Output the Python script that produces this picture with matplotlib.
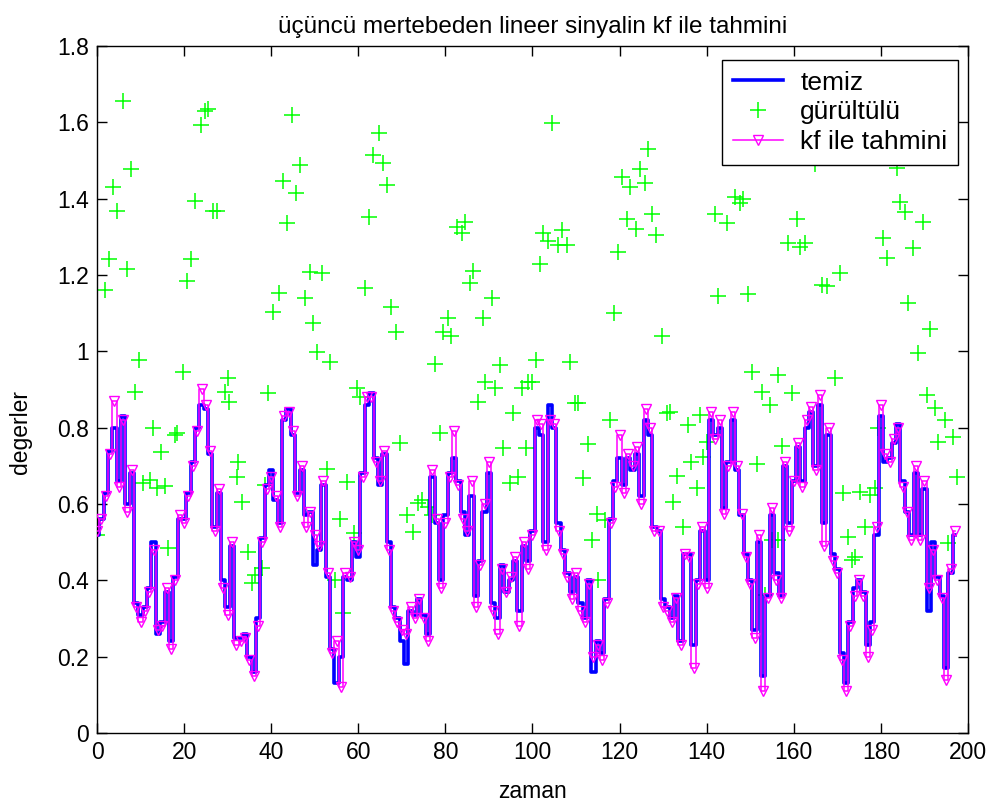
import numpy as np
import matplotlib
matplotlib.use("Agg")
import matplotlib.pyplot as plt

plt.rcParams['font.family'] = ['Liberation Sans', 'DejaVu Sans']

# kalman filtresi tahmini (her zaman adimi icin)
kf_tahmin = [
    0.53, 0.56, 0.62, 0.73, 0.87, 0.645, 0.82, 0.58, 0.69, 0.33,
    0.29, 0.32, 0.37, 0.48, 0.27, 0.28, 0.38, 0.22, 0.40, 0.57,
    0.55, 0.62, 0.70, 0.79, 0.90, 0.86, 0.74, 0.53, 0.64, 0.38,
    0.31, 0.50, 0.23, 0.24, 0.25, 0.19, 0.15, 0.28, 0.50, 0.64,
    0.67, 0.62, 0.54, 0.83, 0.84, 0.79, 0.62, 0.70, 0.54, 0.58,
    0.52, 0.49, 0.66, 0.42, 0.21, 0.24, 0.12, 0.42, 0.41, 0.50,
    0.48, 0.67, 0.88, 0.88, 0.71, 0.66, 0.74, 0.48, 0.32, 0.29,
    0.27, 0.26, 0.33, 0.30, 0.35, 0.30, 0.24, 0.69, 0.56, 0.38,
    0.55, 0.67, 0.79, 0.65, 0.56, 0.53, 0.66, 0.33, 0.44, 0.60,
    0.71, 0.32, 0.26, 0.43, 0.37, 0.41, 0.46, 0.28, 0.50, 0.43,
    0.52, 0.82, 0.81, 0.48, 0.82, 0.81, 0.53, 0.47, 0.41, 0.35,
    0.42, 0.32, 0.29, 0.39, 0.20, 0.23, 0.19, 0.34, 0.55, 0.645,
    0.78, 0.63, 0.73, 0.70, 0.75, 0.60, 0.85, 0.80, 0.53, 0.53,
    0.33, 0.32, 0.29, 0.355, 0.23, 0.47, 0.46, 0.17, 0.39, 0.54,
    0.38, 0.84, 0.77, 0.82, 0.575, 0.70, 0.84, 0.70, 0.575, 0.46,
    0.39, 0.25, 0.52, 0.11, 0.355, 0.59, 0.40, 0.355, 0.71, 0.53,
    0.66, 0.76, 0.645, 0.82, 0.855, 0.69, 0.885, 0.49, 0.80, 0.45,
    0.42, 0.19, 0.11, 0.28, 0.36, 0.40, 0.36, 0.20, 0.27, 0.54,
    0.86, 0.73, 0.71, 0.77, 0.80, 0.645, 0.58, 0.505, 0.70, 0.505,
    0.66, 0.38, 0.48, 0.40, 0.355, 0.14, 0.43, 0.53,
]

# gurultusuz sinyal
temiz = [
    0.52, 0.56, 0.63, 0.74, 0.80, 0.66, 0.83, 0.60, 0.68, 0.34,
    0.31, 0.33, 0.38, 0.50, 0.26, 0.29, 0.37, 0.24, 0.41, 0.56,
    0.56, 0.63, 0.71, 0.80, 0.86, 0.85, 0.73, 0.54, 0.63, 0.40,
    0.33, 0.49, 0.25, 0.25, 0.26, 0.20, 0.16, 0.30, 0.51, 0.65,
    0.69, 0.61, 0.55, 0.82, 0.85, 0.78, 0.63, 0.69, 0.57, 0.58,
    0.44, 0.48, 0.65, 0.41, 0.22, 0.13, 0.20, 0.41, 0.40, 0.50,
    0.46, 0.68, 0.86, 0.89, 0.72, 0.65, 0.73, 0.50, 0.33, 0.30,
    0.24, 0.18, 0.32, 0.31, 0.35, 0.31, 0.26, 0.67, 0.55, 0.40,
    0.57, 0.68, 0.72, 0.66, 0.58, 0.52, 0.62, 0.36, 0.45, 0.58,
    0.68, 0.34, 0.30, 0.44, 0.37, 0.40, 0.45, 0.32, 0.49, 0.45,
    0.53, 0.80, 0.78, 0.50, 0.86, 0.80, 0.55, 0.48, 0.42, 0.37,
    0.41, 0.34, 0.30, 0.40, 0.16, 0.24, 0.21, 0.35, 0.56, 0.66,
    0.72, 0.65, 0.72, 0.69, 0.73, 0.62, 0.82, 0.78, 0.54, 0.53,
    0.35, 0.33, 0.30, 0.36, 0.24, 0.47, 0.47, 0.23, 0.40, 0.53,
    0.40, 0.82, 0.78, 0.80, 0.59, 0.71, 0.82, 0.69, 0.57, 0.47,
    0.40, 0.27, 0.50, 0.15, 0.36, 0.57, 0.42, 0.36, 0.70, 0.55,
    0.66, 0.75, 0.66, 0.80, 0.84, 0.70, 0.86, 0.55, 0.78, 0.47,
    0.43, 0.21, 0.13, 0.29, 0.38, 0.40, 0.37, 0.23, 0.29, 0.52,
    0.83, 0.71, 0.72, 0.76, 0.81, 0.66, 0.58, 0.52, 0.68, 0.52,
    0.64, 0.32, 0.50, 0.41, 0.36, 0.17, 0.42, 0.52,
]

# gurultulu olcumler (zaman, deger)
gurultu_x = [
    0.0, 1.8, 2.8, 3.7, 4.7, 6.0, 7.0, 7.8, 8.7, 9.7,
    10.6, 12.2, 12.9, 13.7, 14.7, 15.6, 16.4, 18.0, 18.3, 19.8,
    20.7, 21.6, 22.5, 23.9, 24.9, 25.6, 26.7, 27.5, 29.3, 30.0,
    30.2, 32.1, 32.4, 33.2, 34.7, 35.5, 36.3, 37.8, 38.6, 39.3,
    40.5, 41.9, 42.8, 43.7, 44.7, 45.6, 46.5, 47.8, 48.8, 49.7,
    50.5, 51.6, 52.7, 53.5, 54.6, 55.8, 56.6, 57.3, 58.9, 59.6,
    60.4, 61.6, 62.5, 63.4, 64.8, 65.7, 66.5, 67.5, 68.7, 69.6,
    71.1, 72.6, 73.8, 74.6, 76.1, 76.9, 77.6, 78.8, 79.5, 80.5,
    81.4, 82.6, 83.7, 84.5, 85.6, 86.4, 87.4, 88.7, 89.1, 90.6,
    91.4, 92.5, 93.3, 94.8, 95.6, 96.7, 97.5, 98.5, 99.0, 100.0,
    100.9, 101.7, 102.5, 103.6, 104.4, 105.9, 106.7, 107.9, 108.6, 109.8,
    110.5, 111.7, 112.8, 113.6, 114.7, 115.1, 116.6, 117.8, 118.7, 119.7,
    120.5, 121.6, 122.4, 123.8, 124.7, 125.8, 126.6, 127.5, 128.4, 129.8,
    130.8, 131.6, 132.3, 133.1, 134.6, 135.8, 136.5, 137.7, 138.5, 139.2,
    140.0, 141.8, 142.7, 144.6, 146.5, 147.6, 148.4, 149.6, 150.3, 151.5,
    152.6, 153.4, 154.5, 154.9, 156.4, 156.4, 157.2, 158.7, 159.5, 160.7,
    161.4, 162.6, 164.9, 166.4, 167.6, 169.5, 170.6, 171.4, 172.5, 173.3,
    174.1, 175.2, 176.3, 177.5, 178.6, 179.4, 180.4, 181.3, 183.6, 184.4,
    185.6, 186.3, 187.3, 188.6, 189.6, 190.5, 191.3, 192.4, 193.2, 194.7,
    195.5, 196.6, 197.4,
]
gurultu_y = [
    0.52, 1.162, 1.242, 1.43, 1.367, 1.656, 1.215, 1.478, 0.894, 0.977,
    0.654, 0.663, 0.798, 0.641, 0.737, 0.648, 0.484, 0.78, 0.785, 0.947,
    1.183, 1.242, 1.394, 1.593, 1.63, 1.634, 1.367, 1.367, 0.894, 0.931,
    0.868, 0.672, 0.711, 0.606, 0.475, 0.392, 0.414, 0.431, 0.65, 0.89,
    1.104, 1.152, 1.446, 1.335, 1.619, 1.414, 1.488, 1.141, 1.209, 1.073,
    0.999, 1.204, 0.693, 0.973, 0.401, 0.562, 0.314, 0.658, 0.523, 0.904,
    0.881, 1.167, 1.351, 1.514, 1.573, 1.493, 1.436, 1.115, 1.051, 0.759,
    0.571, 0.527, 0.602, 0.61, 0.593, 0.571, 0.968, 0.785, 1.051, 1.088,
    1.04, 1.326, 1.309, 1.34, 1.18, 1.21, 0.868, 1.088, 0.92, 1.14,
    0.903, 0.964, 0.746, 0.654, 0.838, 0.671, 0.903, 0.746, 0.92, 0.92,
    0.977, 1.23, 1.309, 1.289, 1.599, 1.278, 1.318, 1.278, 0.973, 0.864,
    0.864, 0.667, 0.757, 0.506, 0.575, 0.401, 0.558, 0.82, 1.10, 1.261,
    1.458, 1.346, 1.431, 1.32, 1.477, 1.44, 1.529, 1.361, 1.305, 1.041,
    0.838, 0.842, 0.606, 0.673, 0.54, 0.807, 0.711, 0.641, 0.833, 0.724,
    0.763, 1.361, 1.146, 1.335, 1.405, 1.388, 1.40, 1.15, 0.947, 0.705,
    0.894, 0.362, 0.859, 0.506, 0.938, 0.506, 0.752, 1.283, 0.89, 1.346,
    1.274, 1.283, 1.49, 1.174, 1.171, 0.929, 1.204, 0.628, 0.514, 0.453,
    0.462, 0.632, 0.54, 0.624, 0.641, 0.798, 1.298, 1.245, 1.48, 1.392,
    1.366, 1.126, 1.271, 0.995, 1.34, 0.885, 1.058, 0.851, 0.763, 0.82,
    0.497, 0.776, 0.671,
]

zaman = np.arange(len(kf_tahmin))

fig = plt.figure(figsize=(9.93, 8.07), dpi=100)
ax = fig.add_axes([0.0977, 0.0917, 0.8771, 0.8513])

ax.plot(zaman, temiz, color=(0, 0, 1), lw=2.6, drawstyle='steps-mid',
        label='temiz', zorder=2)
ax.plot(gurultu_x, gurultu_y, ls='none', marker='+', ms=12, mew=1.1,
        color=(0, 1, 0), label='gürültülü', zorder=1)
ax.plot(zaman, kf_tahmin, color=(1, 0, 1), lw=1.1, drawstyle='steps-mid',
        marker='v', ms=6.5, mfc='none', mec=(1, 0, 1), mew=1.0,
        label='kf ile tahmini', zorder=3)

ax.set_xlim(0, 200)
ax.set_ylim(0, 1.8)
ax.set_xticks(np.arange(0, 201, 20))
ax.set_yticks(np.arange(0, 1.81, 0.2))
ax.set_yticklabels(['0', '0.2', '0.4', '0.6', '0.8', '1', '1.2', '1.4', '1.6', '1.8'])
ax.tick_params(direction='in', length=7, width=1, top=True, right=True,
               labelsize=16.5, pad=6)
for s in ax.spines.values():
    s.set_linewidth(1.0)

ax.set_xlabel('zaman', fontsize=16.5, labelpad=11)
ax.set_ylabel('degerler', fontsize=16.5)
ax.yaxis.set_label_coords(-0.075, 0.438)
ax.set_title('üçüncü mertebeden lineer sinyalin kf ile tahmini', fontsize=17.5, pad=9)

leg = ax.legend(loc='upper right', bbox_to_anchor=(958 / 993, 1 - 60 / 807),
                bbox_transform=fig.transFigure, borderaxespad=0,
                fontsize=19, frameon=True, fancybox=False,
                edgecolor='black', framealpha=1,
                handlelength=1.9, handletextpad=0.65, labelspacing=0.22,
                borderpad=0.4)
leg.get_frame().set_linewidth(1.0)

fig.savefig('out.png', dpi=100, facecolor='white')
